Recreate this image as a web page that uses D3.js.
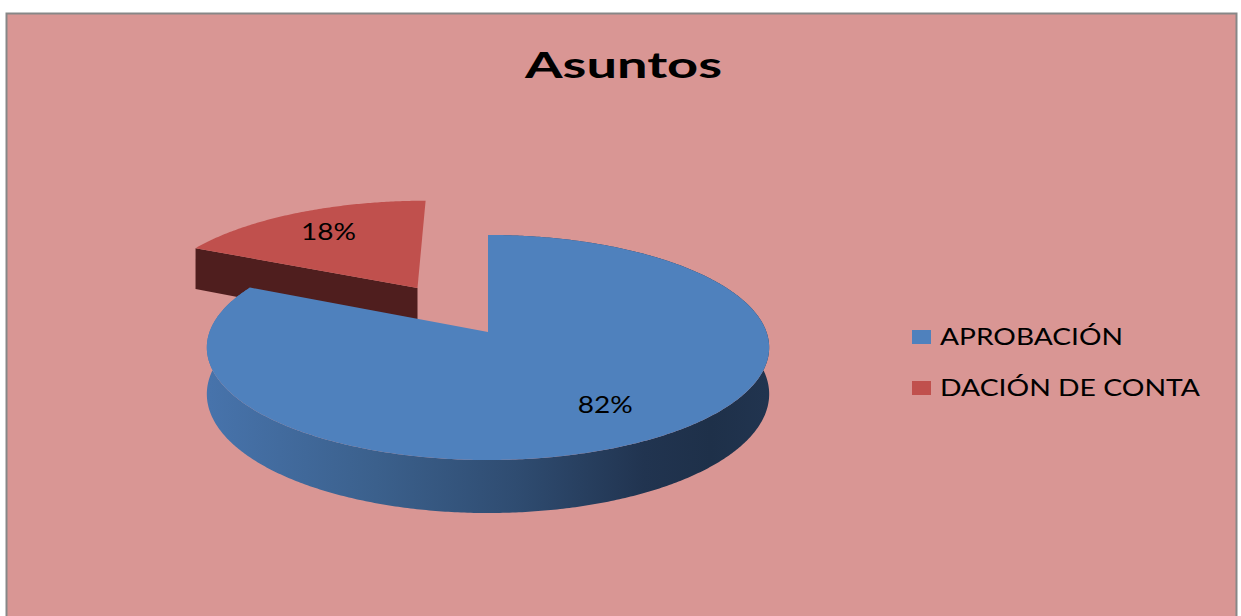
<!DOCTYPE html>
<html>
<head>
<meta charset="utf-8">
<script src="https://cdn.jsdelivr.net/npm/d3@7"></script>
<style>
  html, body { margin: 0; padding: 0; background: #fff; }
  svg { display: block; }
</style>
</head>
<body>
<svg></svg>
<script>
// data
const categories = ["APROBACIÓN", "DACIÓN DE CONTA"];
const values = [82, 18];
const title = "Asuntos";

const colors = ["#4F81BD", "#C0504D"];
const sideColors = ["#2f4d72", "#4F1E1E"];
const explode = 0.5; // pull-out of the small slice, in radius units

const width = 1241, height = 616;
const svg = d3.select("svg").attr("width", width).attr("height", height);

// 3d pie geometry
const cx = 488, cy = 332, rx = 278.5, ry = 110.4, persp = 0.1377, depth = 45.7;

function project(u, v, z) {
  const s = 1 / (1 - persp * v);
  return [cx + rx * u * s, cy + ry * v * s + depth * z * s];
}

function arcPoints(a0, a1, o, r, z) {
  const n = Math.max(2, Math.ceil((a1 - a0) / 0.01));
  return d3.range(n + 1).map(i => {
    const a = a0 + (a1 - a0) * i / n;
    return project(o[0] + r * Math.sin(a), o[1] - r * Math.cos(a), z);
  });
}

const line = d3.line();

// background + frame
svg.append("rect")
  .attr("x", 6.5).attr("y", 13.5)
  .attr("width", 1230).attr("height", 640)
  .attr("fill", "#D99694")
  .attr("stroke", "#878787")
  .attr("stroke-width", 2);

const defs = svg.append("defs");
const grad = defs.append("linearGradient")
  .attr("id", "blueSide")
  .attr("gradientUnits", "userSpaceOnUse")
  .attr("x1", cx - rx).attr("x2", cx + rx)
  .attr("y1", 0).attr("y2", 0);
[[0, "#4773ab"], [0.3, "#3b608c"], [0.55, "#2f4c71"], [0.78, "#213450"], [0.9, "#1e3049"], [1, "#21344f"]]
  .forEach(s => grad.append("stop").attr("offset", s[0]).attr("stop-color", s[1]));

const data = categories.map((c, i) => ({ name: c, value: values[i] }));
const total = d3.sum(values);

const arcs = d3.pie()
  .sort(null)
  .value(d => d.value)(data);

arcs.forEach((d, i) => {
  const mid = (d.startAngle + d.endAngle) / 2;
  const e = i === 1 ? explode : 0;
  d.offset = [e * Math.sin(mid), -e * Math.cos(mid)];
  d.mid = mid;
});

const pieG = svg.append("g").attr("class", "pie");

// draw back slice (exploded) first, then the big one
[1, 0].forEach(i => {
  const d = arcs[i];
  const o = d.offset;
  const g = pieG.append("g");
  const corner0 = [o[0] + Math.sin(d.startAngle), o[1] - Math.cos(d.startAngle)];

  if (i === 1) {
    // radial face on the start edge, facing the viewer
    const face = [
      project(o[0], o[1], 0),
      project(corner0[0], corner0[1], 0),
      project(corner0[0], corner0[1], 1),
      project(o[0], o[1], 1)
    ];
    g.append("path").attr("d", line(face) + "Z").attr("fill", sideColors[i]);
  } else {
    // outer wall
    const top = arcPoints(d.startAngle, d.endAngle, o, 1, 0);
    const bottom = arcPoints(d.startAngle, d.endAngle, o, 1, 1).reverse();
    g.append("path").attr("d", line(top.concat(bottom)) + "Z").attr("fill", "url(#blueSide)");
  }

  const topFace = [project(o[0], o[1], 0)].concat(arcPoints(d.startAngle, d.endAngle, o, 1, 0));
  g.append("path").attr("d", line(topFace) + "Z").attr("fill", colors[i]);
});

// percentage labels
const fmt = d3.format(".0%");
arcs.forEach(d => {
  const p = project(d.offset[0] + 0.72 * Math.sin(d.mid), d.offset[1] - 0.72 * Math.cos(d.mid), 0);
  svg.append("text")
    .attr("x", p[0]).attr("y", p[1] + 8)
    .attr("text-anchor", "middle")
    .attr("font-family", "Lato, 'Open Sans', sans-serif")
    .attr("font-size", 23)
    .attr("fill", "#000")
    .attr("textLength", 55)
    .attr("lengthAdjust", "spacingAndGlyphs")
    .text(fmt(d.value / total));
});

// title
svg.append("text")
  .attr("x", 623.5).attr("y", 78)
  .attr("text-anchor", "middle")
  .attr("font-family", "Lato, 'Open Sans', sans-serif")
  .attr("font-weight", "bold")
  .attr("font-size", 37)
  .attr("textLength", 197)
  .attr("lengthAdjust", "spacingAndGlyphs")
  .text(title);

// legend
const legendWidths = [183, 260];
const legend = svg.append("g").attr("transform", "translate(912,345)");
const rows = legend.selectAll("g")
  .data(categories)
  .enter()
  .append("g")
    .attr("transform", (d, i) => `translate(0,${i * 51})`);
rows.append("rect")
  .attr("x", 0).attr("y", -15)
  .attr("width", 19).attr("height", 14)
  .attr("fill", (d, i) => colors[i]);
rows.append("text")
  .attr("x", 28).attr("y", 0)
  .attr("font-family", "Lato, 'Open Sans', sans-serif")
  .attr("font-size", 23)
  .attr("textLength", (d, i) => legendWidths[i])
  .attr("lengthAdjust", "spacingAndGlyphs")
  .text(d => d);
</script>
</body>
</html>
